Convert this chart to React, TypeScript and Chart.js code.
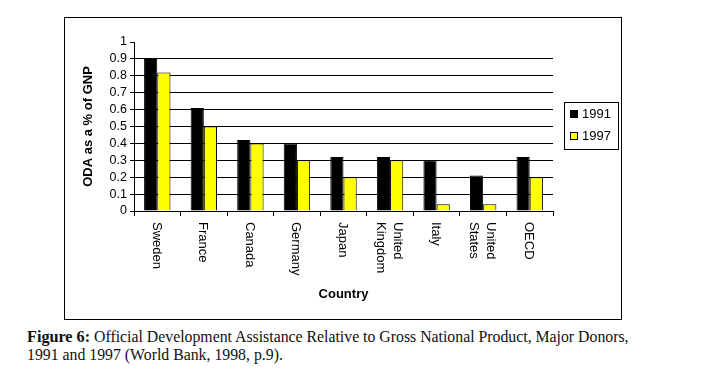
import React, { useEffect, useRef } from "react";
import { Chart, registerables } from "chart.js";

Chart.register(...registerables);

const CATEGORIES: string[][] = [
  ["Sweden"],
  ["France"],
  ["Canada"],
  ["Germany"],
  ["Japan"],
  ["United", "Kingdom"],
  ["Italy"],
  ["United", "States"],
  ["OECD"],
];
const SERIES_1991: number[] = [0.9, 0.61, 0.42, 0.4, 0.32, 0.32, 0.3, 0.21, 0.32];
const SERIES_1997: number[] = [0.82, 0.5, 0.4, 0.3, 0.2, 0.3, 0.04, 0.04, 0.2];
const SERIES_LABELS: string[] = ["1991", "1997"];
const SERIES_COLORS: string[] = ["#000000", "#FFFF00"];
const Y_MIN = 0;
const Y_MAX = 1;
const Y_STEP = 0.1;
const Y_TITLE = "ODA as a % of GNP";
const X_TITLE = "Country";

const FONT = "'Liberation Sans', Arial, sans-serif";

const W = 558;
const H = 303;
const PLOT_LEFT = 70;
const PLOT_RIGHT = 489;
const PLOT_TOP = 25;
const PLOT_BOTTOM = 194;

const customDraw = {
  id: "customDraw",
  afterDraw(chart: any) {
    const ctx = chart.ctx as CanvasRenderingContext2D;
    const xs = chart.scales.x;
    const area = chart.chartArea;
    ctx.save();
    ctx.fillStyle = "#000";
    // x category labels, rotated clockwise
    ctx.font = `13px ${FONT}`;
    const lh = 17;
    const labels = chart.data.labels as string[][];
    labels.forEach((lines, i) => {
      const x = xs.getPixelForValue(i);
      const n = lines.length;
      ctx.save();
      ctx.translate(x - 1, area.bottom + 11);
      ctx.rotate(Math.PI / 2);
      ctx.textAlign = "left";
      ctx.textBaseline = "middle";
      lines.forEach((ln, k) => {
        const off = (k - (n - 1) / 2) * lh;
        ctx.fillText(ln, 0, off);
      });
      ctx.restore();
    });
    // x title
    ctx.font = `bold 13px ${FONT}`;
    ctx.textAlign = "center";
    ctx.textBaseline = "middle";
    ctx.fillText(X_TITLE, (area.left + area.right) / 2, 277);
    // y title
    ctx.save();
    ctx.translate(24, (area.top + area.bottom) / 2);
    ctx.rotate(-Math.PI / 2);
    ctx.fillText(Y_TITLE, 0, 0);
    ctx.restore();
    // legend
    const lx = 500, ly = 85, lw = 54, lhh = 47;
    ctx.strokeStyle = "#000";
    ctx.lineWidth = 1;
    ctx.strokeRect(lx + 0.5, ly + 0.5, lw, lhh);
    ctx.font = `13px ${FONT}`;
    ctx.textAlign = "left";
    ctx.textBaseline = "middle";
    chart.data.datasets.forEach((ds: any, i: number) => {
      const cy = ly + 12 + i * 22;
      ctx.fillStyle = ds.backgroundColor;
      ctx.fillRect(lx + 6, cy - 4, 8, 8);
      ctx.strokeRect(lx + 6.5, cy - 3.5, 7, 7);
      ctx.fillStyle = "#000";
      ctx.fillText(ds.label, lx + 18, cy);
    });
    ctx.restore();
  },
};

export default function App() {
  const ref = useRef<HTMLCanvasElement | null>(null);
  useEffect(() => {
    if (!ref.current) return;
    const chart = new Chart(ref.current, {
      type: "bar",
      data: {
        labels: CATEGORIES as any,
        datasets: [
          {
            label: SERIES_LABELS[0],
            data: SERIES_1991,
            backgroundColor: SERIES_COLORS[0],
            borderColor: "#000",
            borderWidth: 1,
          },
          {
            label: SERIES_LABELS[1],
            data: SERIES_1997,
            backgroundColor: SERIES_COLORS[1],
            borderColor: "#000",
            borderWidth: 1,
          },
        ],
      },
      options: {
        animation: false,
        responsive: false,
        devicePixelRatio: 1,
        categoryPercentage: 0.567,
        barPercentage: 1,
        layout: {
          padding: { left: 0, right: W - PLOT_RIGHT, top: PLOT_TOP, bottom: 0 },
        },
        plugins: {
          legend: { display: false },
          tooltip: { enabled: false },
          title: { display: false },
        },
        scales: {
          x: {
            afterFit: (s: any) => {
              s.height = H - PLOT_BOTTOM;
            },
            ticks: { display: false },
            grid: {
              offset: true,
              drawOnChartArea: false,
              drawTicks: true,
              tickLength: 5,
              color: "#000",
            },
            border: { display: true, color: "#000", width: 1 },
          },
          y: {
            min: Y_MIN,
            max: Y_MAX,
            afterFit: (s: any) => {
              s.width = PLOT_LEFT;
            },
            ticks: {
              stepSize: Y_STEP,
              autoSkip: false,
              color: "#000",
              padding: 3,
              font: { family: FONT, size: 12.5 },
              callback: (v: any) => String(Number(Number(v).toFixed(1))),
            },
            grid: {
              color: (c: any) =>
                c.tick && c.tick.value > Y_MAX - 1e-6 ? "rgba(0,0,0,0)" : "#000",
              tickColor: "#000",
              tickLength: 4,
              lineWidth: 1,
            },
            border: { display: true, color: "#000", width: 1 },
          },
        },
      },
      plugins: [customDraw],
    });
    return () => chart.destroy();
  }, []);

  return (
    <div
      style={{
        position: "fixed",
        left: 0,
        top: 0,
        width: 702,
        height: 378,
        background: "#fff",
        overflow: "hidden",
      }}
    >
      <canvas
        ref={ref}
        width={W}
        height={H}
        style={{ position: "absolute", left: 64, top: 17, width: W, height: H }}
      />
      <div
        style={{
          position: "absolute",
          left: 64,
          top: 17,
          width: W,
          height: H,
          border: "1px solid #000",
          boxSizing: "border-box",
          pointerEvents: "none",
        }}
      />
      <div
        style={{
          position: "absolute",
          left: 27,
          top: 328,
          width: 670,
          whiteSpace: "nowrap",
          fontFamily: "'Liberation Serif', 'DejaVu Serif', serif",
          fontSize: 15.8,
          lineHeight: "18px",
          color: "#111",
        }}
      >
        <b style={{ fontSize: 16.2 }}>Figure 6:</b> Official Development Assistance Relative to Gross National Product, Major Donors,
        <br />
        1991 and 1997 (World Bank, 1998, p.9).
      </div>
    </div>
  );
}
